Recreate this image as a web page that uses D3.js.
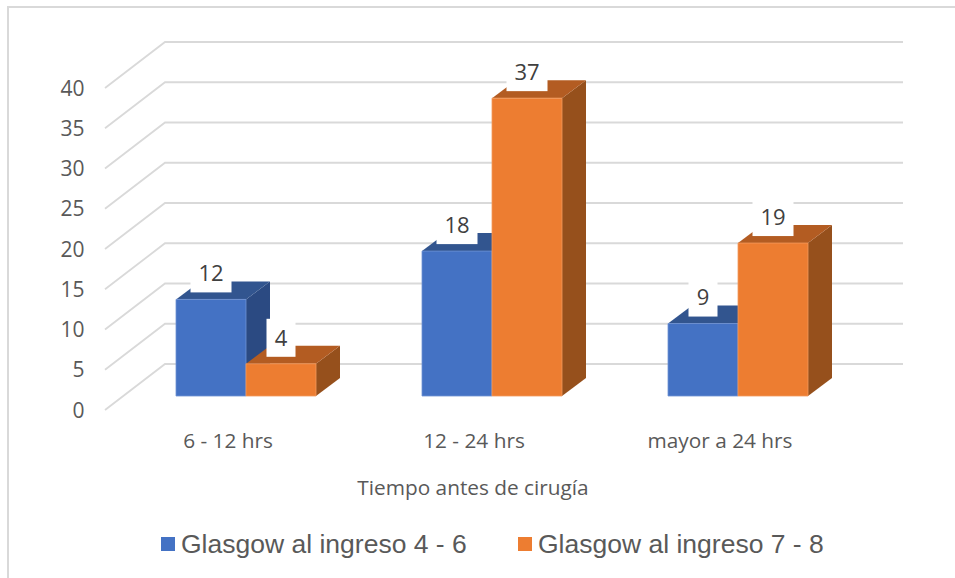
<!DOCTYPE html>
<html>
<head>
<meta charset="utf-8">
<script src="https://cdn.jsdelivr.net/npm/d3@7"></script>
<style>
    html, body { margin: 0; padding: 0; background: #fff; }
    svg { display: block; }
    text { font-family: "Open Sans", sans-serif; }
    .legend text { font-family: "Liberation Sans", Arial, sans-serif; }
</style>
</head>
<body>
<svg></svg>
<script>
const categories = ["6 - 12 hrs", "12 - 24 hrs", "mayor a 24 hrs"];
const seriesNames = ["Glasgow al ingreso 4 - 6", "Glasgow al ingreso 7 - 8"];
const glasgow46 = [12, 18, 9];
const glasgow78 = [4, 37, 19];
const yTicks = [0, 5, 10, 15, 20, 25, 30, 35, 40];
const axisTitle = "Tiempo antes de cirugía";

const width = 955;
const height = 578;

const palette = [
    { front: "#4472c4", top: "#32558f", side: "#2b4a82", edge: "#6f92d3" },
    { front: "#ed7d31", top: "#b35c22", side: "#96501c", edge: "#f29a5e" }
];

const svg = d3.select("svg")
      .attr("width", width)
      .attr("height", height)
      .attr("viewBox", [0, 0, width, height]);

// front plane of the floor, the wall sits one depth behind it
const x = d3.scaleBand().domain(categories).range([105, 843]);
const y = d3.scaleLinear().domain([0, 40]).range([410, 88]);
const series = d3.scaleBand().domain([0, 1]).range([-70, 70]);

const wallDepth = { x: 60, y: -46 };
const barNear = { x: 18, y: -14 };
const barFar = { x: 42, y: -32 };

const shift = (p, d) => [p[0] + d.x, p[1] + d.y];
const outline = d3.line();

// chart frame
svg.append("path")
    .attr("d", outline([[8, height], [8, 7], [width, 7]]))
    .attr("fill", "none")
    .attr("stroke", "#d9d9d9")
    .attr("stroke-width", 2);

// gridlines: diagonal over the side wall, then across the back wall
svg.append("g")
    .selectAll("path")
    .data(yTicks)
    .join("path")
    .attr("d", d => {
        const a = [x.range()[0], y(d)];
        const b = shift(a, wallDepth);
        const c = shift([x.range()[1], y(d)], wallDepth);
        return outline([a, b, c]);
    })
    .attr("fill", "none")
    .attr("stroke", "#d9d9d9")
    .attr("stroke-width", 1.8);

const rows = [glasgow46, glasgow78].flatMap((values, s) =>
    values.map((v, i) => ({ s, v, cat: categories[i] })));

const barLeft = d => x(d.cat) + x.bandwidth() / 2 + series(d.s);

const bar = svg.append("g")
      .selectAll("g")
      .data(rows)
      .join("g");

bar.append("path")
    .attr("d", d => {
        const x1 = barLeft(d) + series.bandwidth();
        return outline([
            shift([x1, y(0)], barNear), shift([x1, y(d.v)], barNear),
            shift([x1, y(d.v)], barFar), shift([x1, y(0)], barFar)
        ]) + "Z";
    })
    .attr("fill", d => palette[d.s].side);

bar.append("path")
    .attr("d", d => {
        const x0 = barLeft(d), x1 = x0 + series.bandwidth();
        return outline([
            shift([x0, y(d.v)], barNear), shift([x1, y(d.v)], barNear),
            shift([x1, y(d.v)], barFar), shift([x0, y(d.v)], barFar)
        ]) + "Z";
    })
    .attr("fill", d => palette[d.s].top);

bar.append("path")
    .attr("d", d => {
        const x0 = barLeft(d), x1 = x0 + series.bandwidth();
        return outline([
            shift([x0, y(0)], barNear), shift([x0, y(d.v)], barNear),
            shift([x1, y(d.v)], barNear), shift([x1, y(0)], barNear)
        ]) + "Z";
    })
    .attr("fill", d => palette[d.s].front)
    .attr("stroke", d => palette[d.s].edge)
    .attr("stroke-width", 0.8);

// value labels on white boxes, drawn last so they cover the bars behind
const label = svg.append("g")
      .selectAll("g")
      .data(rows)
      .join("g")
      .attr("transform", d => {
          const cx = barLeft(d) + series.bandwidth() / 2 + barNear.x;
          return `translate(${cx},${y(d.v) + barNear.y - 7})`;
      });

label.append("rect")
    .attr("x", d => d.v < 10 ? -14.5 : -20.5)
    .attr("y", -38)
    .attr("width", d => d.v < 10 ? 29 : 41)
    .attr("height", 38)
    .attr("fill", "#fff");

label.append("text")
    .attr("y", -19)
    .attr("dy", "0.36em")
    .attr("text-anchor", "middle")
    .attr("font-size", 22)
    .attr("fill", "#404040")
    .text(d => d.v);

// value axis
const yAxis = svg.append("g")
      .attr("transform", "translate(84.5,0.5)")
      .call(d3.axisLeft(y).tickValues(yTicks).tickSize(0).tickPadding(0));
yAxis.select(".domain").remove();
yAxis.selectAll("text")
    .attr("font-size", 21)
    .attr("fill", "#595959");

// category axis
const xAxis = svg.append("g")
      .attr("transform", "translate(0,433)")
      .call(d3.axisBottom(x).tickSize(0).tickPadding(0));
xAxis.select(".domain").remove();
xAxis.selectAll("text")
    .attr("font-size", 20.8)
    .attr("fill", "#595959");

svg.append("text")
    .attr("x", 473)
    .attr("y", 495)
    .attr("text-anchor", "middle")
    .attr("font-size", 20.8)
    .attr("fill", "#595959")
    .text(axisTitle);

// legend
const legend = svg.append("g")
      .attr("class", "legend")
      .selectAll("g")
      .data(seriesNames)
      .join("g")
      .attr("transform", (d, i) => `translate(${[161, 518][i]},537)`);

legend.append("rect")
    .attr("width", 14)
    .attr("height", 14)
    .attr("fill", (d, i) => palette[i].front);

legend.append("text")
    .attr("x", 20)
    .attr("y", 16)
    .attr("font-size", 26.5)
    .attr("fill", "#595959")
    .text(d => d);
</script>
</body>
</html>
